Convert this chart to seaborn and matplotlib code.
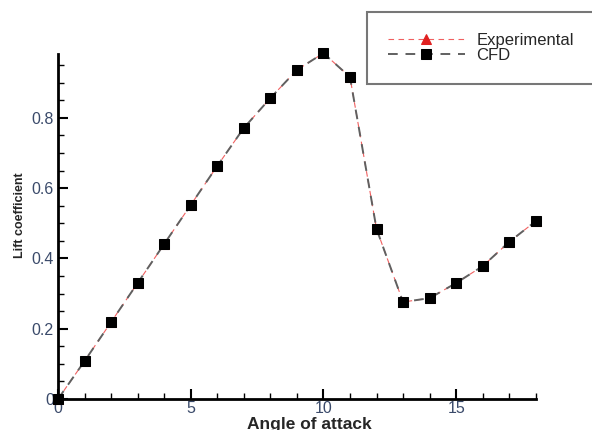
import numpy as np
import pandas as pd
import matplotlib
matplotlib.use("Agg")
import matplotlib.pyplot as plt
import seaborn as sns
from matplotlib.ticker import MultipleLocator

angle = [0, 1, 2, 3, 4, 5, 6, 7, 8, 9, 10, 11, 12, 13, 14, 15, 16, 17, 18]
cl_exp = [0.0, 0.108, 0.219, 0.330, 0.441, 0.552, 0.663, 0.771, 0.856, 0.936,
          0.984, 0.916, 0.484, 0.276, 0.287, 0.330, 0.378, 0.447, 0.506]
cl_cfd = [0.0, 0.108, 0.219, 0.330, 0.441, 0.552, 0.663, 0.771, 0.856, 0.936,
          0.984, 0.916, 0.484, 0.276, 0.287, 0.330, 0.378, 0.447, 0.506]

df = pd.DataFrame({"angle": angle, "exp": cl_exp, "cfd": cl_cfd})

sns.set_style("white")
plt.rcParams["font.family"] = ["Liberation Sans", "DejaVu Sans"]

fig = plt.figure(figsize=(5.92, 4.30), dpi=100)
ax = fig.add_axes([0.098, 0.072, 0.807, 0.802])

sns.lineplot(data=df, x="angle", y="exp", ax=ax, color="#f06060", linestyle=(0, (5, 4)),
             linewidth=0.8, marker="^", markersize=7, markeredgecolor="#e02020",
             markerfacecolor="#e02020", label="Experimental", clip_on=False)
sns.lineplot(data=df, x="angle", y="cfd", ax=ax, color="#606060", linestyle=(0, (5, 4)),
             linewidth=1.4, marker="s", markersize=7, markerfacecolor="black",
             markeredgecolor="black", label="CFD", clip_on=False)

ax.set_xlim(0, 18)
ax.set_ylim(0, 0.981)
ax.xaxis.set_minor_locator(MultipleLocator(1))
ax.yaxis.set_minor_locator(MultipleLocator(0.05))
ax.set_xticks([0, 5, 10, 15])
ax.set_xticklabels(["0", "5", "10", "15"])
ax.set_yticks([0, 0.2, 0.4, 0.6, 0.8])
ax.set_yticklabels(["0", "0.2", "0.4", "0.6", "0.8"])

for s in ["top", "right"]:
    ax.spines[s].set_visible(False)
for s in ["left", "bottom"]:
    ax.spines[s].set_linewidth(2)
    ax.spines[s].set_color("black")

ax.tick_params(which="major", direction="in", length=7, width=1.5, colors="black",
               labelcolor="#3a4a6a", labelsize=11.5, pad=3)
ax.tick_params(axis="x", which="major", pad=1.5)
ax.tick_params(which="minor", direction="in", length=4, width=1, colors="black")
ax.tick_params(axis="x", which="both", bottom=True)
ax.tick_params(axis="y", which="both", left=True)

ax.set_xlabel("Angle of attack", fontsize=12.5, fontweight="bold")
ax.xaxis.set_label_coords(0.527, -0.052)
ax.set_ylabel("Lift coefficient", fontsize=9, fontweight="bold")
ax.yaxis.set_label_coords(-0.068, 0.533)

ax.get_legend().remove()
h, l = ax.get_legend_handles_labels()
leg = fig.legend(h, l, loc="upper left", bbox_to_anchor=(367 / 592, 1 - 12 / 430),
                 frameon=True, fontsize=12, handlelength=4.6, borderpad=1.25,
                 fancybox=False, labelspacing=0.0, handletextpad=0.7, borderaxespad=0)
leg.get_frame().set_edgecolor("#555555")
leg.get_frame().set_linewidth(1.5)

fig.savefig("out.png", dpi=100)
